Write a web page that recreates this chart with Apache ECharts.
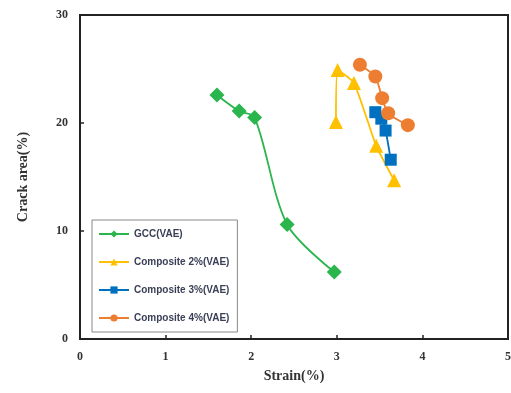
<!DOCTYPE html>
<html>
<head>
<meta charset="utf-8">
<script src="https://cdn.jsdelivr.net/npm/echarts@6/dist/echarts.min.js"></script>
<style>
  html, body { margin: 0; padding: 0; background: #fff; }
  #main { width: 511px; height: 393px; }
</style>
</head>
<body>
<div id="main"></div>
<script>
// values
var seriesNames = ['GCC(VAE)', 'Composite 2%(VAE)', 'Composite 3%(VAE)', 'Composite 4%(VAE)'];
var gccStrain = [1.60, 1.86, 2.04, 2.42, 2.97];
var gccArea = [22.6, 21.1, 20.5, 10.6, 6.2];
var c2Strain = [2.99, 3.01, 3.20, 3.46, 3.67];
var c2Area = [20.1, 24.9, 23.7, 17.9, 14.7];
var c3Strain = [3.45, 3.52, 3.57, 3.63];
var c3Area = [21.0, 20.4, 19.3, 16.6];
var c4Strain = [3.27, 3.45, 3.53, 3.60, 3.83];
var c4Area = [25.4, 24.3, 22.3, 20.9, 19.8];

function pairs(xs, ys) {
  var out = [];
  for (var i = 0; i < xs.length; i++) out.push([xs[i], ys[i]]);
  return out;
}

var colors = ['#2bb54d', '#ffc000', '#0070c0', '#ed7d31'];
var serifBold = { fontFamily: 'Liberation Serif', fontWeight: 'bold', color: '#333' };

var chart = echarts.init(document.getElementById('main'));
var option = {
  animation: false,
  color: colors,
  grid: {
    left: 80, right: 3, top: 15, bottom: 54,
    outerBoundsMode: 'none', containLabel: false,
    show: true, borderColor: '#222', borderWidth: 2, backgroundColor: 'transparent'
  },
  legend: {
    orient: 'vertical',
    left: 92, top: 220,
    padding: [9, 8, 9, 6],
    itemGap: 18,
    itemWidth: 30, itemHeight: 9,
    backgroundColor: '#fff',
    borderColor: '#888', borderWidth: 1,
    textStyle: { fontFamily: 'Liberation Sans', fontWeight: 'bold', fontSize: 10, color: '#3a3f55' },
    data: seriesNames
  },
  xAxis: {
    type: 'value', min: 0, max: 5, interval: 1,
    name: 'Strain(%)', nameLocation: 'middle', nameGap: 30,
    nameTextStyle: Object.assign({ fontSize: 14 }, serifBold),
    axisLine: { lineStyle: { color: '#222', width: 2 } },
    axisTick: { inside: true, length: 4, lineStyle: { color: '#222', width: 1.5 } },
    axisLabel: Object.assign({ fontSize: 12, margin: 12 }, serifBold),
    splitLine: { show: false }
  },
  yAxis: {
    type: 'value', min: 0, max: 30, interval: 10,
    name: 'Crack area(%)', nameLocation: 'middle', nameGap: 50,
    nameTextStyle: Object.assign({ fontSize: 14 }, serifBold),
    axisLine: { show: true, lineStyle: { color: '#222', width: 2 } },
    axisTick: { show: true, inside: true, length: 4, lineStyle: { color: '#222', width: 1.5 } },
    axisLabel: Object.assign({ fontSize: 12, margin: 12 }, serifBold),
    splitLine: { show: false }
  },
  series: [
    {
      name: seriesNames[0], type: 'line', smooth: 0.3,
      symbol: 'diamond', symbolSize: 15,
      lineStyle: { width: 1.8 },
      data: pairs(gccStrain, gccArea)
    },
    {
      name: seriesNames[1], type: 'line', smooth: 0.2,
      symbol: 'triangle', symbolSize: 14,
      lineStyle: { width: 1.8 },
      data: pairs(c2Strain, c2Area)
    },
    {
      name: seriesNames[2], type: 'line', smooth: 0.2,
      symbol: 'rect', symbolSize: 12,
      lineStyle: { width: 1.8 },
      data: pairs(c3Strain, c3Area)
    },
    {
      name: seriesNames[3], type: 'line', smooth: 0.2,
      symbol: 'circle', symbolSize: 14,
      lineStyle: { width: 1.8 },
      data: pairs(c4Strain, c4Area)
    }
  ]
};
chart.setOption(option);
</script>
</body>
</html>
